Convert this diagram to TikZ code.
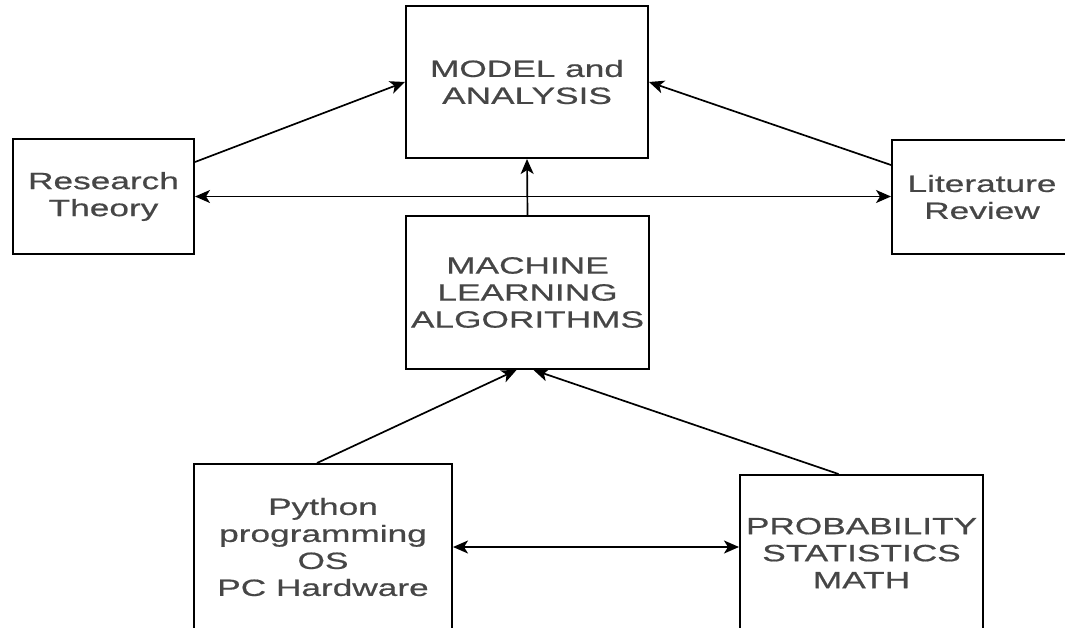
\documentclass[tikz,border=0pt]{standalone}
\usepackage{fontspec}
\newfontfamily\boxfont[FakeStretch=1.5,FakeBold=0.6]{Liberation Sans}
\usetikzlibrary{arrows.meta}
\definecolor{inkgray}{RGB}{70,70,70}
\begin{document}
\begin{tikzpicture}[x=1pt,y=-1pt,
  blockbox/.style={draw=black, line width=2pt, rectangle, inner sep=0pt,
    align=center, text=inkgray, font=\boxfont\fontsize{23.5}{27}\selectfont},
  tip/.tip={Stealth[length=15pt,width=13pt,inset=4pt]},
  link/.style={line width=1.7pt, -tip},
  twoway/.style={line width=1.7pt, tip-tip}]
\useasboundingbox (0,0) rectangle (1065,627);
\clip (0,0) rectangle (1065,627);
\fill[white] (0,0) rectangle (1065,627);

% blocks
\node[blockbox, minimum width=242pt, minimum height=152pt] (model) at (527,82) {MODEL and\\ANALYSIS};
\node[blockbox, minimum width=243pt, minimum height=153pt] (ml) at (527.5,292.5) {MACHINE\\LEARNING\\ALGORITHMS};
\node[blockbox, minimum width=181pt, minimum height=115pt] (research) at (103.5,196.5) {Research\\Theory};
\node[blockbox, minimum width=180pt, minimum height=114pt] (lit) at (982,197) {Literature\\Review};
\node[blockbox, minimum width=258pt, minimum height=166pt] (python) at (323,547) {Python\\programming\\OS\\PC Hardware};
\node[blockbox, minimum width=243pt, minimum height=156pt] (prob) at (861.5,553) {PROBABILITY\\STATISTICS\\MATH};

% connectors
\draw[link] ([yshift=34.5pt]research.east) -- (model.west);
\draw[link] ([yshift=32pt]lit.west) -- (model.east);
\draw[twoway] (research.east) -- (research.east -| lit.west);
\draw[link] (ml.north) -- (model.south);
\draw[link] ([xshift=-6pt]python.north) -- ([xshift=-11pt]ml.south);
\draw[link] ([xshift=-23pt]prob.north) -- ([xshift=6pt]ml.south);
\draw[twoway] (python.east) -- (python.east -| prob.west);
\end{tikzpicture}
\end{document}
